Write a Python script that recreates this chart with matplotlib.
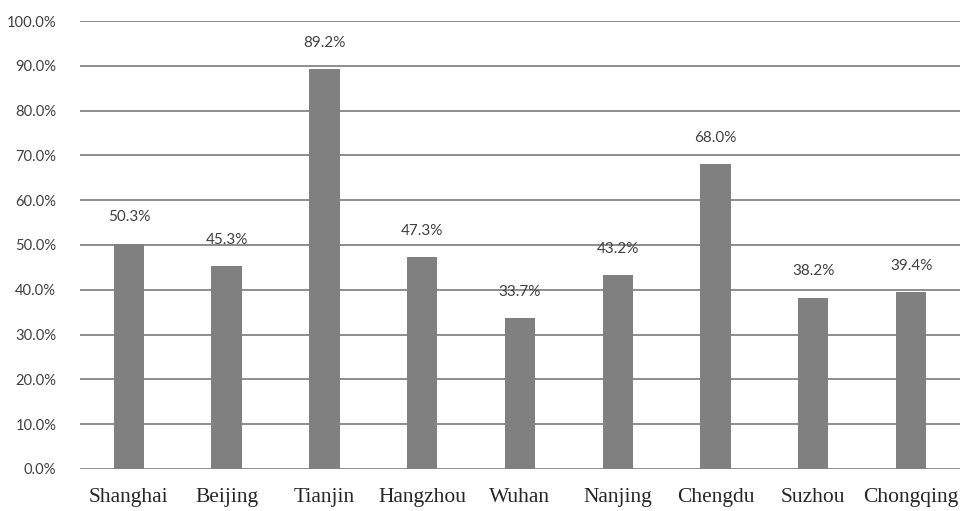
import matplotlib
matplotlib.use("Agg")
import matplotlib.pyplot as plt
from matplotlib.ticker import FuncFormatter, MultipleLocator

cities = ["Shanghai", "Beijing", "Tianjin", "Hangzhou", "Wuhan",
          "Nanjing", "Chengdu", "Suzhou", "Chongqing"]
values = [50.3, 45.3, 89.2, 47.3, 33.7, 43.2, 68.0, 38.2, 39.4]

fig = plt.figure(figsize=(9.6, 5.11), dpi=100)
ax = fig.add_axes([0.0833, 0.0822, 0.9167, 0.8767])

x = range(len(cities))
bars = ax.bar(x, values, width=0.31, color="#808080", zorder=3)

ax.set_xlim(-0.5, len(cities) - 0.5)
ax.set_ylim(0, 100)
ax.yaxis.set_major_locator(MultipleLocator(10))
ax.yaxis.set_major_formatter(FuncFormatter(lambda v, p: f"{v:.1f}%"))
ax.grid(axis="y", color="#858585", linewidth=1.3, zorder=0)
for s in ax.spines.values():
    s.set_visible(False)
ax.tick_params(axis="both", length=0)
ax.tick_params(axis="y", pad=17, labelsize=10.6, labelcolor="#404040")
ax.tick_params(axis="x", pad=14, labelsize=15.5, labelcolor="#262626")
for lbl in ax.get_yticklabels():
    lbl.set_family("Lato")
ax.set_xticks(list(x))
ax.set_xticklabels(cities, family="Liberation Serif")

for b, v in zip(bars, values):
    ax.annotate(f"{v:.1f}%", (b.get_x() + b.get_width() / 2, v),
                xytext=(0, 14), textcoords="offset points", ha="center",
                va="bottom", fontsize=11, family="Lato", color="#404040")

fig.savefig("out.png", dpi=100)
